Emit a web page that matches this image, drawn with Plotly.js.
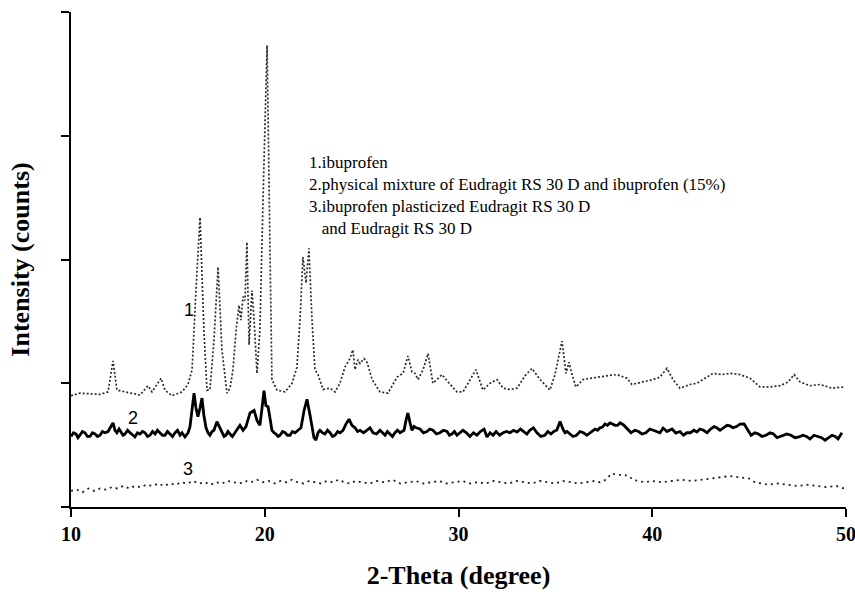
<!DOCTYPE html>
<html>
<head>
<meta charset="utf-8">
<script src="https://cdn.plot.ly/plotly-3.0.1.min.js"></script>
<style>html,body{margin:0;padding:0;background:#fff;}#chart{width:855px;height:594px;}</style>
</head>
<body>
<div id="chart"></div>
<script>
// 1. ibuprofen
const theta1 = [10.00,10.46,11.50,11.91,12.17,12.37,12.79,13.56,13.97,14.18,14.65,14.85,15.21,15.73,16.04,16.25,16.45,16.66,16.86,17.02,17.17,17.38,17.59,17.79,18.05,18.21,18.36,18.52,18.67,18.77,18.88,18.98,19.08,19.19,19.34,19.45,19.60,19.75,19.91,20.12,20.27,20.37,20.63,21.05,21.41,21.66,21.82,21.97,22.13,22.28,22.44,22.59,22.75,23.01,23.37,23.63,23.88,24.14,24.40,24.55,24.66,24.81,24.92,25.12,25.28,25.54,25.95,26.36,26.83,27.14,27.39,27.60,27.75,27.91,28.17,28.43,28.68,28.94,29.15,29.46,29.92,30.23,30.59,30.90,31.26,31.63,31.99,32.30,32.66,33.02,33.43,33.79,34.21,34.72,34.98,35.19,35.34,35.55,35.70,35.86,36.06,36.43,36.79,37.15,37.66,38.18,38.70,38.95,39.52,40.04,40.40,40.76,41.07,41.43,41.95,42.31,42.72,43.14,43.60,44.01,44.53,45.05,45.56,46.08,46.59,47.01,47.32,47.63,48.14,48.66,49.28,49.90];
const counts1 = [0.90,0.92,0.91,0.93,1.18,0.945,0.93,0.905,0.98,0.93,1.04,0.945,0.90,0.93,0.99,1.11,1.75,2.34,1.43,0.945,0.945,1.35,1.94,1.27,0.92,0.96,1.11,1.43,1.63,1.51,1.70,1.67,2.14,1.31,1.75,1.51,1.08,1.43,2.48,3.73,2.08,1.03,0.945,0.93,1.00,1.13,1.51,2.02,1.81,2.09,1.51,1.11,1.07,0.95,0.96,0.93,1.00,1.13,1.20,1.27,1.11,1.19,1.16,1.20,1.17,1.03,0.93,0.92,1.05,1.08,1.22,1.09,1.08,1.03,1.11,1.24,1.00,1.04,1.07,1.01,0.93,0.93,1.03,1.11,0.945,1.00,1.03,0.96,0.95,0.96,1.06,1.12,1.03,0.945,1.07,1.23,1.34,1.08,1.17,1.07,0.97,1.03,1.04,1.05,1.06,1.07,1.04,0.99,1.01,1.03,1.05,1.12,1.03,0.96,0.99,1.00,1.04,1.08,1.07,1.08,1.07,1.04,0.97,0.97,0.98,1.01,1.07,1.01,0.98,0.99,0.96,0.97];

// 2. physical mixture of Eudragit RS 30 D and ibuprofen (15%)
const theta2 = [10.00,10.13,10.26,10.36,10.46,10.59,10.72,10.85,10.98,11.11,11.24,11.37,11.50,11.62,11.75,11.91,12.06,12.17,12.27,12.37,12.48,12.58,12.69,12.79,12.92,13.05,13.18,13.30,13.43,13.56,13.69,13.82,13.95,14.08,14.21,14.34,14.46,14.59,14.72,14.85,14.98,15.11,15.24,15.37,15.50,15.63,15.73,15.88,16.04,16.14,16.25,16.35,16.45,16.55,16.66,16.76,16.86,16.97,17.07,17.17,17.28,17.38,17.53,17.69,17.79,17.90,18.00,18.10,18.21,18.33,18.46,18.59,18.72,18.88,19.03,19.24,19.45,19.60,19.75,19.86,19.96,20.06,20.17,20.27,20.37,20.48,20.58,20.69,20.79,20.92,21.05,21.17,21.30,21.43,21.56,21.72,21.87,22.03,22.18,22.34,22.44,22.54,22.64,22.75,22.85,22.98,23.11,23.24,23.37,23.50,23.63,23.76,23.88,24.04,24.19,24.35,24.50,24.66,24.79,24.92,25.10,25.28,25.43,25.59,25.77,25.95,26.08,26.21,26.33,26.46,26.59,26.72,26.85,26.98,27.19,27.29,27.39,27.50,27.60,27.70,27.81,28.01,28.19,28.37,28.52,28.68,28.86,29.04,29.22,29.41,29.53,29.66,29.79,29.92,30.08,30.23,30.41,30.59,30.77,30.95,31.13,31.32,31.47,31.63,31.78,31.94,32.12,32.30,32.48,32.66,32.84,33.02,33.20,33.38,33.53,33.69,33.87,34.05,34.25,34.46,34.61,34.77,34.92,35.08,35.24,35.39,35.50,35.60,35.75,35.91,36.09,36.27,36.45,36.63,36.84,37.05,37.18,37.30,37.43,37.56,37.69,37.82,37.95,38.08,38.21,38.34,38.52,38.70,38.90,39.11,39.29,39.47,39.67,39.88,40.06,40.25,40.40,40.56,40.76,41.02,41.22,41.43,41.61,41.79,41.97,42.15,42.30,42.46,42.64,42.83,43.01,43.19,43.35,43.50,43.68,43.86,44.01,44.17,44.35,44.53,44.74,44.94,45.10,45.30,45.48,45.66,45.87,46.08,46.26,46.44,46.70,46.95,47.16,47.37,47.57,47.78,47.96,48.14,48.35,48.56,48.74,48.92,49.10,49.28,49.44,49.59,49.79,49.95];
const counts2 = [0.57,0.60,0.59,0.56,0.58,0.61,0.60,0.57,0.57,0.60,0.59,0.57,0.58,0.61,0.60,0.61,0.65,0.68,0.62,0.60,0.63,0.61,0.58,0.59,0.62,0.60,0.58,0.566,0.60,0.59,0.61,0.60,0.57,0.58,0.61,0.59,0.62,0.60,0.58,0.58,0.61,0.59,0.57,0.60,0.62,0.58,0.60,0.566,0.60,0.646,0.78,0.92,0.80,0.73,0.80,0.88,0.74,0.64,0.60,0.58,0.61,0.62,0.69,0.64,0.60,0.57,0.58,0.61,0.59,0.57,0.60,0.63,0.66,0.62,0.65,0.76,0.78,0.70,0.66,0.80,0.94,0.82,0.81,0.72,0.62,0.60,0.59,0.57,0.58,0.61,0.60,0.58,0.58,0.61,0.60,0.62,0.64,0.78,0.87,0.74,0.65,0.56,0.54,0.60,0.62,0.60,0.59,0.62,0.60,0.57,0.58,0.61,0.60,0.62,0.67,0.71,0.66,0.64,0.61,0.62,0.60,0.62,0.64,0.60,0.59,0.62,0.60,0.58,0.61,0.59,0.57,0.60,0.62,0.60,0.62,0.70,0.76,0.68,0.62,0.65,0.64,0.63,0.60,0.61,0.63,0.62,0.59,0.60,0.62,0.61,0.58,0.59,0.61,0.58,0.60,0.62,0.60,0.57,0.60,0.58,0.61,0.63,0.566,0.60,0.58,0.61,0.58,0.60,0.61,0.60,0.62,0.606,0.63,0.61,0.59,0.622,0.64,0.60,0.57,0.58,0.61,0.59,0.61,0.622,0.69,0.63,0.60,0.61,0.59,0.57,0.58,0.61,0.60,0.58,0.606,0.63,0.62,0.64,0.646,0.67,0.66,0.68,0.671,0.66,0.66,0.68,0.663,0.63,0.60,0.62,0.61,0.59,0.60,0.63,0.62,0.61,0.60,0.638,0.61,0.63,0.598,0.61,0.58,0.60,0.60,0.62,0.606,0.63,0.62,0.60,0.63,0.65,0.638,0.62,0.64,0.66,0.655,0.64,0.65,0.67,0.671,0.62,0.58,0.60,0.59,0.57,0.58,0.60,0.59,0.56,0.574,0.59,0.58,0.56,0.566,0.58,0.57,0.55,0.58,0.57,0.56,0.54,0.558,0.58,0.57,0.55,0.60];

// 3. ibuprofen plasticized Eudragit RS 30 D and Eudragit RS 30 D
const theta3 = [10.0,10.3,10.6,10.9,11.2,11.5,11.8,12.1,12.4,12.7,13.0,13.3,13.6,13.9,14.2,14.5,14.8,15.1,15.4,15.7,16.0,16.3,16.6,16.9,17.2,17.5,17.8,18.1,18.4,18.7,19.0,19.3,19.6,19.9,20.2,20.5,20.8,21.1,21.4,21.7,22.0,22.3,22.6,22.9,23.2,23.5,23.8,24.1,24.4,24.7,25.0,25.4,25.8,26.2,26.6,27.0,27.4,27.8,28.2,28.6,29.0,29.4,29.8,30.2,30.6,31.0,31.4,31.8,32.2,32.6,33.0,33.4,33.8,34.2,34.6,35.0,35.4,35.8,36.2,36.6,37.0,37.3,37.6,37.9,38.2,38.5,38.8,39.0,39.3,39.6,40.0,40.5,41.0,41.5,42.0,42.5,43.0,43.5,44.0,44.5,45.0,45.3,45.6,46.0,46.5,47.0,47.5,48.0,48.5,49.0,49.5,49.9];
const counts3 = [0.13,0.14,0.12,0.15,0.13,0.15,0.14,0.16,0.15,0.17,0.15,0.17,0.16,0.18,0.17,0.19,0.17,0.19,0.18,0.20,0.19,0.21,0.19,0.20,0.18,0.20,0.19,0.21,0.20,0.19,0.21,0.20,0.22,0.20,0.21,0.19,0.21,0.20,0.22,0.20,0.19,0.21,0.20,0.19,0.21,0.20,0.22,0.20,0.19,0.21,0.20,0.19,0.21,0.20,0.22,0.19,0.20,0.21,0.19,0.20,0.21,0.19,0.20,0.21,0.19,0.20,0.19,0.21,0.20,0.19,0.21,0.20,0.19,0.21,0.20,0.19,0.21,0.20,0.19,0.20,0.21,0.20,0.22,0.27,0.26,0.26,0.25,0.22,0.21,0.20,0.21,0.20,0.21,0.22,0.21,0.22,0.23,0.24,0.25,0.24,0.23,0.20,0.19,0.18,0.19,0.18,0.17,0.18,0.17,0.16,0.17,0.15];

const xTicks = [10, 20, 30, 40, 50];
const yTicks = [0, 1, 2, 3, 4];
const legendLines = [
  "1.ibuprofen",
  "2.physical mixture of Eudragit RS 30 D and ibuprofen (15%)",
  "3.ibuprofen plasticized Eudragit RS 30 D",
  "\u00A0\u00A0\u00A0and Eudragit RS 30 D"
];
const curveLabels = ["1", "2", "3"];

const serif = "'Liberation Serif', 'Times New Roman', Times, serif";
const sans = "'Liberation Sans', Arial, Helvetica, sans-serif";

const traces = [
  {x: theta1, y: counts1, mode: 'lines', line: {color: '#2a2a2a', width: 1.7, dash: '2px,2px'}, name: 'ibuprofen', hoverinfo: 'x+y'},
  {x: theta2, y: counts2, mode: 'lines', line: {color: '#000', width: 2.8}, name: 'physical mixture', hoverinfo: 'x+y'},
  {x: theta3, y: counts3, mode: 'lines', line: {color: '#222', width: 1.8, dash: '2px,4px'}, name: 'plasticized', hoverinfo: 'x+y'}
];

const L = 71, T = 12, W = 775, H = 495;
function px(x){ return (x - L) / W; }
function py(y){ return (T + H - y) / H; }

const annotations = [
  {text: legendLines.join('<br>'), xref:'paper', yref:'paper', x: px(307), y: py(195),
   showarrow:false, xanchor:'left', yanchor:'middle', align:'left',
   font:{family: serif, size: 17, color:'#000'}},
  {text: curveLabels[0], x: 16.09, y: 1.59, xref:'x', yref:'y', showarrow:false, font:{family: sans, size: 18, color:'#000'}},
  {text: curveLabels[1], x: 13.2, y: 0.72, xref:'x', yref:'y', showarrow:false, font:{family: sans, size: 18, color:'#000'}},
  {text: curveLabels[2], x: 16.04, y: 0.31, xref:'x', yref:'y', showarrow:false, font:{family: sans, size: 18, color:'#000'}}
];

const layout = {
  width: 855, height: 594,
  margin: {l: 71, r: 9, t: 12, b: 87},
  paper_bgcolor: '#fff', plot_bgcolor: '#fff',
  showlegend: false,
  xaxis: {
    range: [10, 50], tickvals: xTicks, ticktext: xTicks.map(String),
    ticks: 'outside', ticklen: 8, tickwidth: 2, tickcolor: '#000',
    showline: true, linewidth: 2, linecolor: '#000',
    showgrid: false, zeroline: false, ticklabeloverflow: 'allow',
    tickfont: {family: serif, size: 20, color: '#000', weight: 'bold'},
    title: {text: '2-Theta (degree)', font: {family: serif, size: 26, color: '#000', weight: 'bold'}, standoff: 22}
  },
  yaxis: {
    range: [0, 4], tickvals: yTicks, showticklabels: false,
    ticks: 'outside', ticklen: 8, tickwidth: 2, tickcolor: '#000',
    showline: true, linewidth: 2, linecolor: '#000',
    showgrid: false, zeroline: false,
    title: {text: 'Intensity (counts)', font: {family: serif, size: 26, color: '#000', weight: 'bold'}, standoff: 24}
  },
  annotations: annotations
};

Plotly.newPlot('chart', traces, layout, {displayModeBar: false, staticPlot: true});
</script>
</body>
</html>
